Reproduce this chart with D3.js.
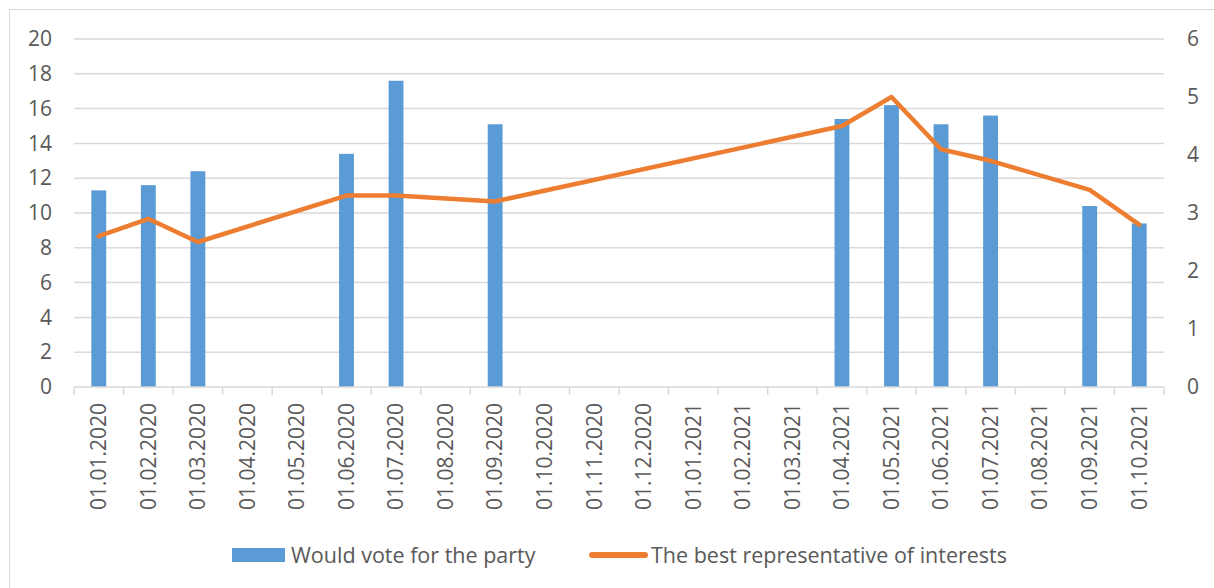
<!DOCTYPE html>
<html>
<head>
<meta charset="utf-8">
<script src="https://cdn.jsdelivr.net/npm/d3@7"></script>
<style>
  body { margin: 0; background: #fff; }
  svg { display: block; font-family: "Open Sans", sans-serif; }
</style>
</head>
<body>
<div id="chart"></div>
<script>
const categories = [
  '01.01.2020', '01.02.2020', '01.03.2020', '01.04.2020', '01.05.2020', '01.06.2020',
  '01.07.2020', '01.08.2020', '01.09.2020', '01.10.2020', '01.11.2020', '01.12.2020',
  '01.01.2021', '01.02.2021', '01.03.2021', '01.04.2021', '01.05.2021', '01.06.2021',
  '01.07.2021', '01.08.2021', '01.09.2021', '01.10.2021'
];
// null = no survey that month
const voteValues = [
  11.3, 11.6, 12.4, null, null, 13.4,
  17.6, null, 15.1, null, null, null,
  null, null, null, 15.4, 16.2, 15.1,
  15.6, null, 10.4, 9.4
];
const interestValues = [
  2.6, 2.9, 2.5, null, null, 3.3,
  3.3, null, 3.2, null, null, null,
  null, null, null, 4.5, 5.0, 4.1,
  3.9, null, 3.4, 2.8
];
const leftTicks = [0, 2, 4, 6, 8, 10, 12, 14, 16, 18, 20];
const rightTicks = [0, 1, 2, 3, 4, 5, 6];
const seriesNames = ['Would vote for the party', 'The best representative of interests'];

const width = 1214;
const height = 588;
const margin = { top: 39, right: 50, bottom: 201, left: 74 };
const innerWidth = width - margin.left - margin.right;
const innerHeight = height - margin.top - margin.bottom;

const blue = '#5b9bd5';
const orange = '#ed7d31';
const grid = '#d9d9d9';
const textColor = '#595959';
const font = '"Open Sans", sans-serif';

const svg = d3.select('#chart')
  .append('svg')
  .attr('width', width)
  .attr('height', height);

// chart area frame (right and bottom edges fall outside the picture)
svg.append('path')
  .attr('d', `M9.5,${height}V9.5H${width}`)
  .attr('fill', 'none')
  .attr('stroke', grid);

const chart = svg.append('g')
  .attr('transform', `translate(${margin.left},${margin.top})`);

const xScale = d3.scaleBand()
  .domain(categories)
  .range([0, innerWidth]);

const yLeft = d3.scaleLinear()
  .domain([0, 20])
  .range([innerHeight, 0]);

const yRight = d3.scaleLinear()
  .domain([0, 6])
  .range([innerHeight, 0]);

// gridlines
chart.append('g')
  .selectAll('line')
  .data(leftTicks.filter(d => d > 0))
  .join('line')
    .attr('x1', 0)
    .attr('x2', innerWidth)
    .attr('y1', d => yLeft(d))
    .attr('y2', d => yLeft(d))
    .attr('stroke', grid)
    .attr('stroke-width', 1.5);

// bars
const barWidth = xScale.bandwidth() * 0.3;
const vote = categories.map((c, i) => ({ c, v: voteValues[i] })).filter(d => d.v != null);
chart.append('g')
  .selectAll('rect')
  .data(vote)
  .join('rect')
    .attr('x', d => xScale(d.c) + (xScale.bandwidth() - barWidth) / 2)
    .attr('y', d => yLeft(d.v))
    .attr('width', barWidth)
    .attr('height', d => innerHeight - yLeft(d.v))
    .attr('fill', blue);

// x axis
const xAxis = chart.append('g')
  .attr('transform', `translate(0,${innerHeight})`)
  .call(d3.axisBottom(xScale).tickSize(0).tickPadding(0))
  .attr('font-size', 21)
  .attr('font-family', font);
xAxis.select('.domain').remove();
xAxis.append('line')
  .attr('x1', 0).attr('x2', innerWidth)
  .attr('stroke', grid).attr('stroke-width', 1.5);
xAxis.selectAll('.tickmark')
  .data(d3.range(categories.length + 1))
  .join('line')
    .attr('class', 'tickmark')
    .attr('x1', i => i * xScale.step())
    .attr('x2', i => i * xScale.step())
    .attr('y1', 0)
    .attr('y2', 8)
    .attr('stroke', grid)
    .attr('stroke-width', 1.5);
// rotated labels read bottom-to-top, their end 16px under the axis
xAxis.selectAll('.tick text')
  .attr('fill', textColor)
  .attr('text-anchor', 'start')
  .attr('x', 0)
  .attr('y', 0)
  .attr('dy', '0.35em')
  .each(function() {
    const len = this.getComputedTextLength();
    d3.select(this).attr('transform', `translate(0,${16 + len}) rotate(-90)`);
  });

// left axis, labels right-aligned 22px left of the plot
const leftAxis = chart.append('g')
  .call(d3.axisLeft(yLeft).tickValues(leftTicks).tickSize(0).tickPadding(0))
  .attr('font-size', 21)
  .attr('font-family', font);
leftAxis.select('.domain').remove();
leftAxis.selectAll('text')
  .attr('fill', textColor)
  .attr('text-anchor', 'start')
  .attr('x', 0)
  .each(function() {
    const len = this.getComputedTextLength();
    d3.select(this).attr('transform', `translate(${-22 - len},0)`);
  });

// right axis
const rightAxis = chart.append('g')
  .attr('transform', `translate(${innerWidth},0)`)
  .call(d3.axisRight(yRight).tickValues(rightTicks).tickFormat(d3.format('d')).tickSize(0).tickPadding(23))
  .attr('font-size', 21)
  .attr('font-family', font);
rightAxis.select('.domain').remove();
rightAxis.selectAll('text').attr('fill', textColor);

// line, gaps bridged between surveyed months
const interest = categories.map((c, i) => ({ c, v: interestValues[i] })).filter(d => d.v != null);
const line = d3.line()
  .x(d => xScale(d.c) + xScale.bandwidth() / 2)
  .y(d => yRight(d.v));
chart.append('path')
  .datum(interest)
  .attr('d', line)
  .attr('fill', 'none')
  .attr('stroke', orange)
  .attr('stroke-width', 4.5)
  .attr('stroke-linejoin', 'round')
  .attr('stroke-linecap', 'round');

// legend
const legend = svg.append('g')
  .attr('font-family', font)
  .attr('font-size', 21.5)
  .attr('fill', textColor);

legend.append('rect')
  .attr('x', 232).attr('y', 548)
  .attr('width', 53).attr('height', 14)
  .attr('fill', blue);
legend.append('text')
  .attr('x', 291).attr('y', 555)
  .attr('dy', '0.35em')
  .text(seriesNames[0]);

legend.append('line')
  .attr('x1', 592).attr('x2', 645)
  .attr('y1', 555).attr('y2', 555)
  .attr('stroke', orange)
  .attr('stroke-width', 6)
  .attr('stroke-linecap', 'round');
legend.append('text')
  .attr('x', 651).attr('y', 555)
  .attr('dy', '0.35em')
  .text(seriesNames[1]);
</script>
</body>
</html>
